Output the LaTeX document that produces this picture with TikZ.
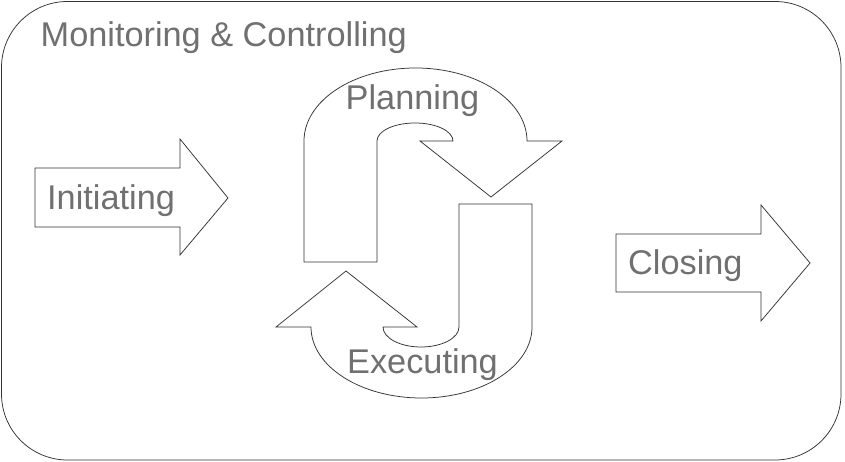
\documentclass[tikz,border=0pt]{standalone}
\usepackage{fontspec}
\setmainfont{Liberation Sans}
\begin{document}
\begin{tikzpicture}[x=1pt,y=1pt,
  shapeline/.style={draw=black!80, line width=0.75pt, fill=white, line join=miter},
  label/.style={inner sep=0pt, anchor=base west, text=black!56, font=\fontsize{34.3}{41}\selectfont}]
\useasboundingbox (0,0) rectangle (845,462);
% outer frame
\draw[shapeline, rounded corners=66pt] (1.5,460.5) rectangle (841,2);
\node[label] (mc) at (40.5,415) {Monitoring \& Controlling};
% Initiating arrow
\draw[shapeline] (35,294) -- (180,294) -- (180,323) -- (228,264) -- (180,207) -- (180,235) -- (35,235) -- cycle;
\node[label] (init) at (47,252) {Initiating};
% Closing arrow
\draw[shapeline] (616,228) -- (761,228) -- (761,257) -- (810,199) -- (761,141) -- (761,170) -- (616,170) -- cycle;
\node[label] (close) at (628,187) {Closing};
% Planning arrow
\draw[shapeline] (304,200) -- (304,321)
  arc[start angle=180, end angle=0, x radius=111.5pt, y radius=73pt]
  -- (562,321) -- (491,265) -- (420,321) -- (453,321)
  arc[start angle=0, end angle=180, x radius=38pt, y radius=18pt]
  -- (377,200) -- cycle;
\node[label] (plan) at (345.5,352) {Planning};
% Executing arrow
\draw[shapeline] (532,258) -- (532,135)
  arc[start angle=0, end angle=-180, x radius=110.5pt, y radius=71pt]
  -- (276,135) -- (346,191) -- (417,135) -- (383,135)
  arc[start angle=180, end angle=360, x radius=38pt, y radius=20pt]
  -- (459,258) -- cycle;
\node[label] (exec) at (347,88) {Executing};
\end{tikzpicture}
\end{document}
